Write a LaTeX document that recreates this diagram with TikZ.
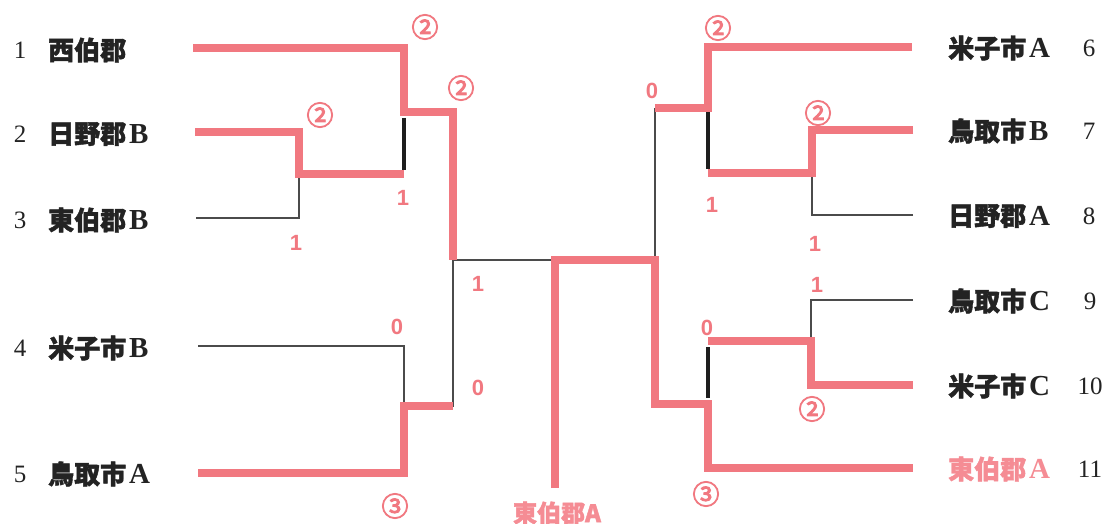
\documentclass[tikz,border=0pt]{standalone}
\usepackage{fontspec}
\setmainfont{Liberation Serif}
\newfontfamily\cjk[FakeBold=1.5]{Noto Sans CJK JP}
\newfontfamily\cjkc[FakeBold=3.5]{Noto Sans CJK JP}
\newfontfamily\lab{Liberation Sans}
\definecolor{rd}{RGB}{241,120,128}
\definecolor{pk}{RGB}{245,140,148}
\definecolor{gr}{RGB}{75,75,75}
\definecolor{bk}{RGB}{30,30,30}
\definecolor{tx}{RGB}{35,35,35}
\begin{document}
\begin{tikzpicture}[x=1pt,y=-1pt,
  win/.style={draw=rd,line width=8pt,line join=miter},
  lose/.style={draw=gr,line width=2pt},
  blk/.style={draw=bk,line width=4pt},
  team/.style={anchor=west,inner sep=0pt,text=tx,font=\cjk\bfseries\fontsize{26}{26}\selectfont},
  num/.style={inner sep=0pt,text=tx,font=\fontsize{25}{25}\selectfont},
  score/.style={inner sep=0pt,text=rd,font=\lab\bfseries\fontsize{22}{22}\selectfont},
  circ/.style={inner sep=0pt,text=rd,font=\cjkc\fontsize{27}{27}\selectfont}]
\newcommand{\ltr}[1]{\hspace{3pt}{\rmfamily\bfseries\fontsize{29}{29}\selectfont #1}}
\useasboundingbox[fill=white] (0,0) rectangle (1108,524);

% team names and numbers
\node[num] (k1) at (20,50) {1};
\node[num] (k2) at (20,134) {2};
\node[num] (k3) at (20,220) {3};
\node[num] (k4) at (20,348) {4};
\node[num] (k5) at (20,474) {5};
\node[team] (n1) at (48,50) {西伯郡};
\node[team] (n2) at (48,134) {日野郡\ltr{B}};
\node[team] (n3) at (48,220) {東伯郡\ltr{B}};
\node[team] (n4) at (48,348) {米子市\ltr{B}};
\node[team] (n5) at (48,474) {鳥取市\ltr{A}};
\node[team] (n6) at (948,48) {米子市\ltr{A}};
\node[team] (n7) at (948,131) {鳥取市\ltr{B}};
\node[team] (n8) at (948,216) {日野郡\ltr{A}};
\node[team] (n9) at (948,301) {鳥取市\ltr{C}};
\node[team] (n10) at (948,386) {米子市\ltr{C}};
\node[team,text=pk] (n11) at (948,469) {東伯郡\ltr{A}};
\node[num] (k6) at (1089,48) {6};
\node[num] (k7) at (1089,131) {7};
\node[num] (k8) at (1089,216) {8};
\node[num] (k9) at (1090,301) {9};
\node[num] (k10) at (1090,386) {10};
\node[num] (k11) at (1090,469) {11};

% bracket coordinates
\coordinate (a1) at (193,48);
\coordinate (a2) at (195,132);
\coordinate (a3) at (196,218);
\coordinate (a4) at (198,346);
\coordinate (a5) at (198,473);
\coordinate (p23) at (299,174);
\coordinate (p1) at (404,112);
\coordinate (p1b) at (404,174);
\coordinate (p45) at (404,406);
\coordinate (sL) at (453,260);
\coordinate (fin) at (555,260);
\coordinate (fend) at (555,488);
\coordinate (b6) at (912,47);
\coordinate (b7) at (913,130);
\coordinate (b8) at (913,215);
\coordinate (b9) at (913,300);
\coordinate (b10) at (913,385);
\coordinate (b11) at (913,468);
\coordinate (q78) at (812,173);
\coordinate (q6) at (708,108);
\coordinate (q6b) at (708,173);
\coordinate (q910) at (811,341);
\coordinate (q11t) at (708,341);
\coordinate (q11) at (708,404);
\coordinate (sR) at (655,260);

% losing lines
\draw[lose] (a3) -| (p23);
\draw[lose] (a4) -| (p45) -| (sL) -- (fin);
\draw[lose] (sR) -- (sR |- q6);
\draw[lose] (b8) -| (q78);
\draw[lose] (b9) -| (q910);
\draw[blk,shorten <=6pt,shorten >=4pt] (p1) -- (p1b);
\draw[blk,shorten <=4pt,shorten >=4pt] (q6) -- (q6b);
\draw[blk,shorten <=6pt,shorten >=6pt] (q11t) -- (q11);

% winning lines
\draw[win] (a1) -| (p1) -| (sL);
\draw[win] (a2) -| (p23) -- (p1b);
\draw[win] (a5) -| (p45) -- (p45 -| sL);
\draw[win] (b6) -| (q6) -- (q6 -| sR);
\draw[win] (b7) -| (q78) -- (q6b);
\draw[win] (b10) -| (q910) -- (q11t);
\draw[win] (fend) -- (fin) -- (sR) |- (q11) |- (b11);

% scores
\node[circ] (s1) at (425,27) {②};
\node[circ] (s2) at (461,88) {②};
\node[circ] (s3) at (320,115) {②};
\node[score] (s4) at (403,198) {1};
\node[score] (s5) at (296,243) {1};
\node[score] (s6) at (397,327) {0};
\node[circ] (s7) at (395,506) {③};
\node[score] (s8) at (478,284) {1};
\node[score] (s9) at (478,388) {0};
\node[circ] (s10) at (718,28) {②};
\node[score] (s11) at (652,91) {0};
\node[circ] (s12) at (818,113) {②};
\node[score] (s13) at (712,205) {1};
\node[score] (s14) at (815,244) {1};
\node[score] (s15) at (817,285) {1};
\node[score] (s16) at (707,328) {0};
\node[circ] (s17) at (812,409) {②};
\node[circ] (s18) at (706,494) {③};
\node[inner sep=0pt,text=pk,font=\cjk\bfseries\fontsize{24}{24}\selectfont] (w) at (557,513) {東伯郡A};
\end{tikzpicture}
\end{document}
